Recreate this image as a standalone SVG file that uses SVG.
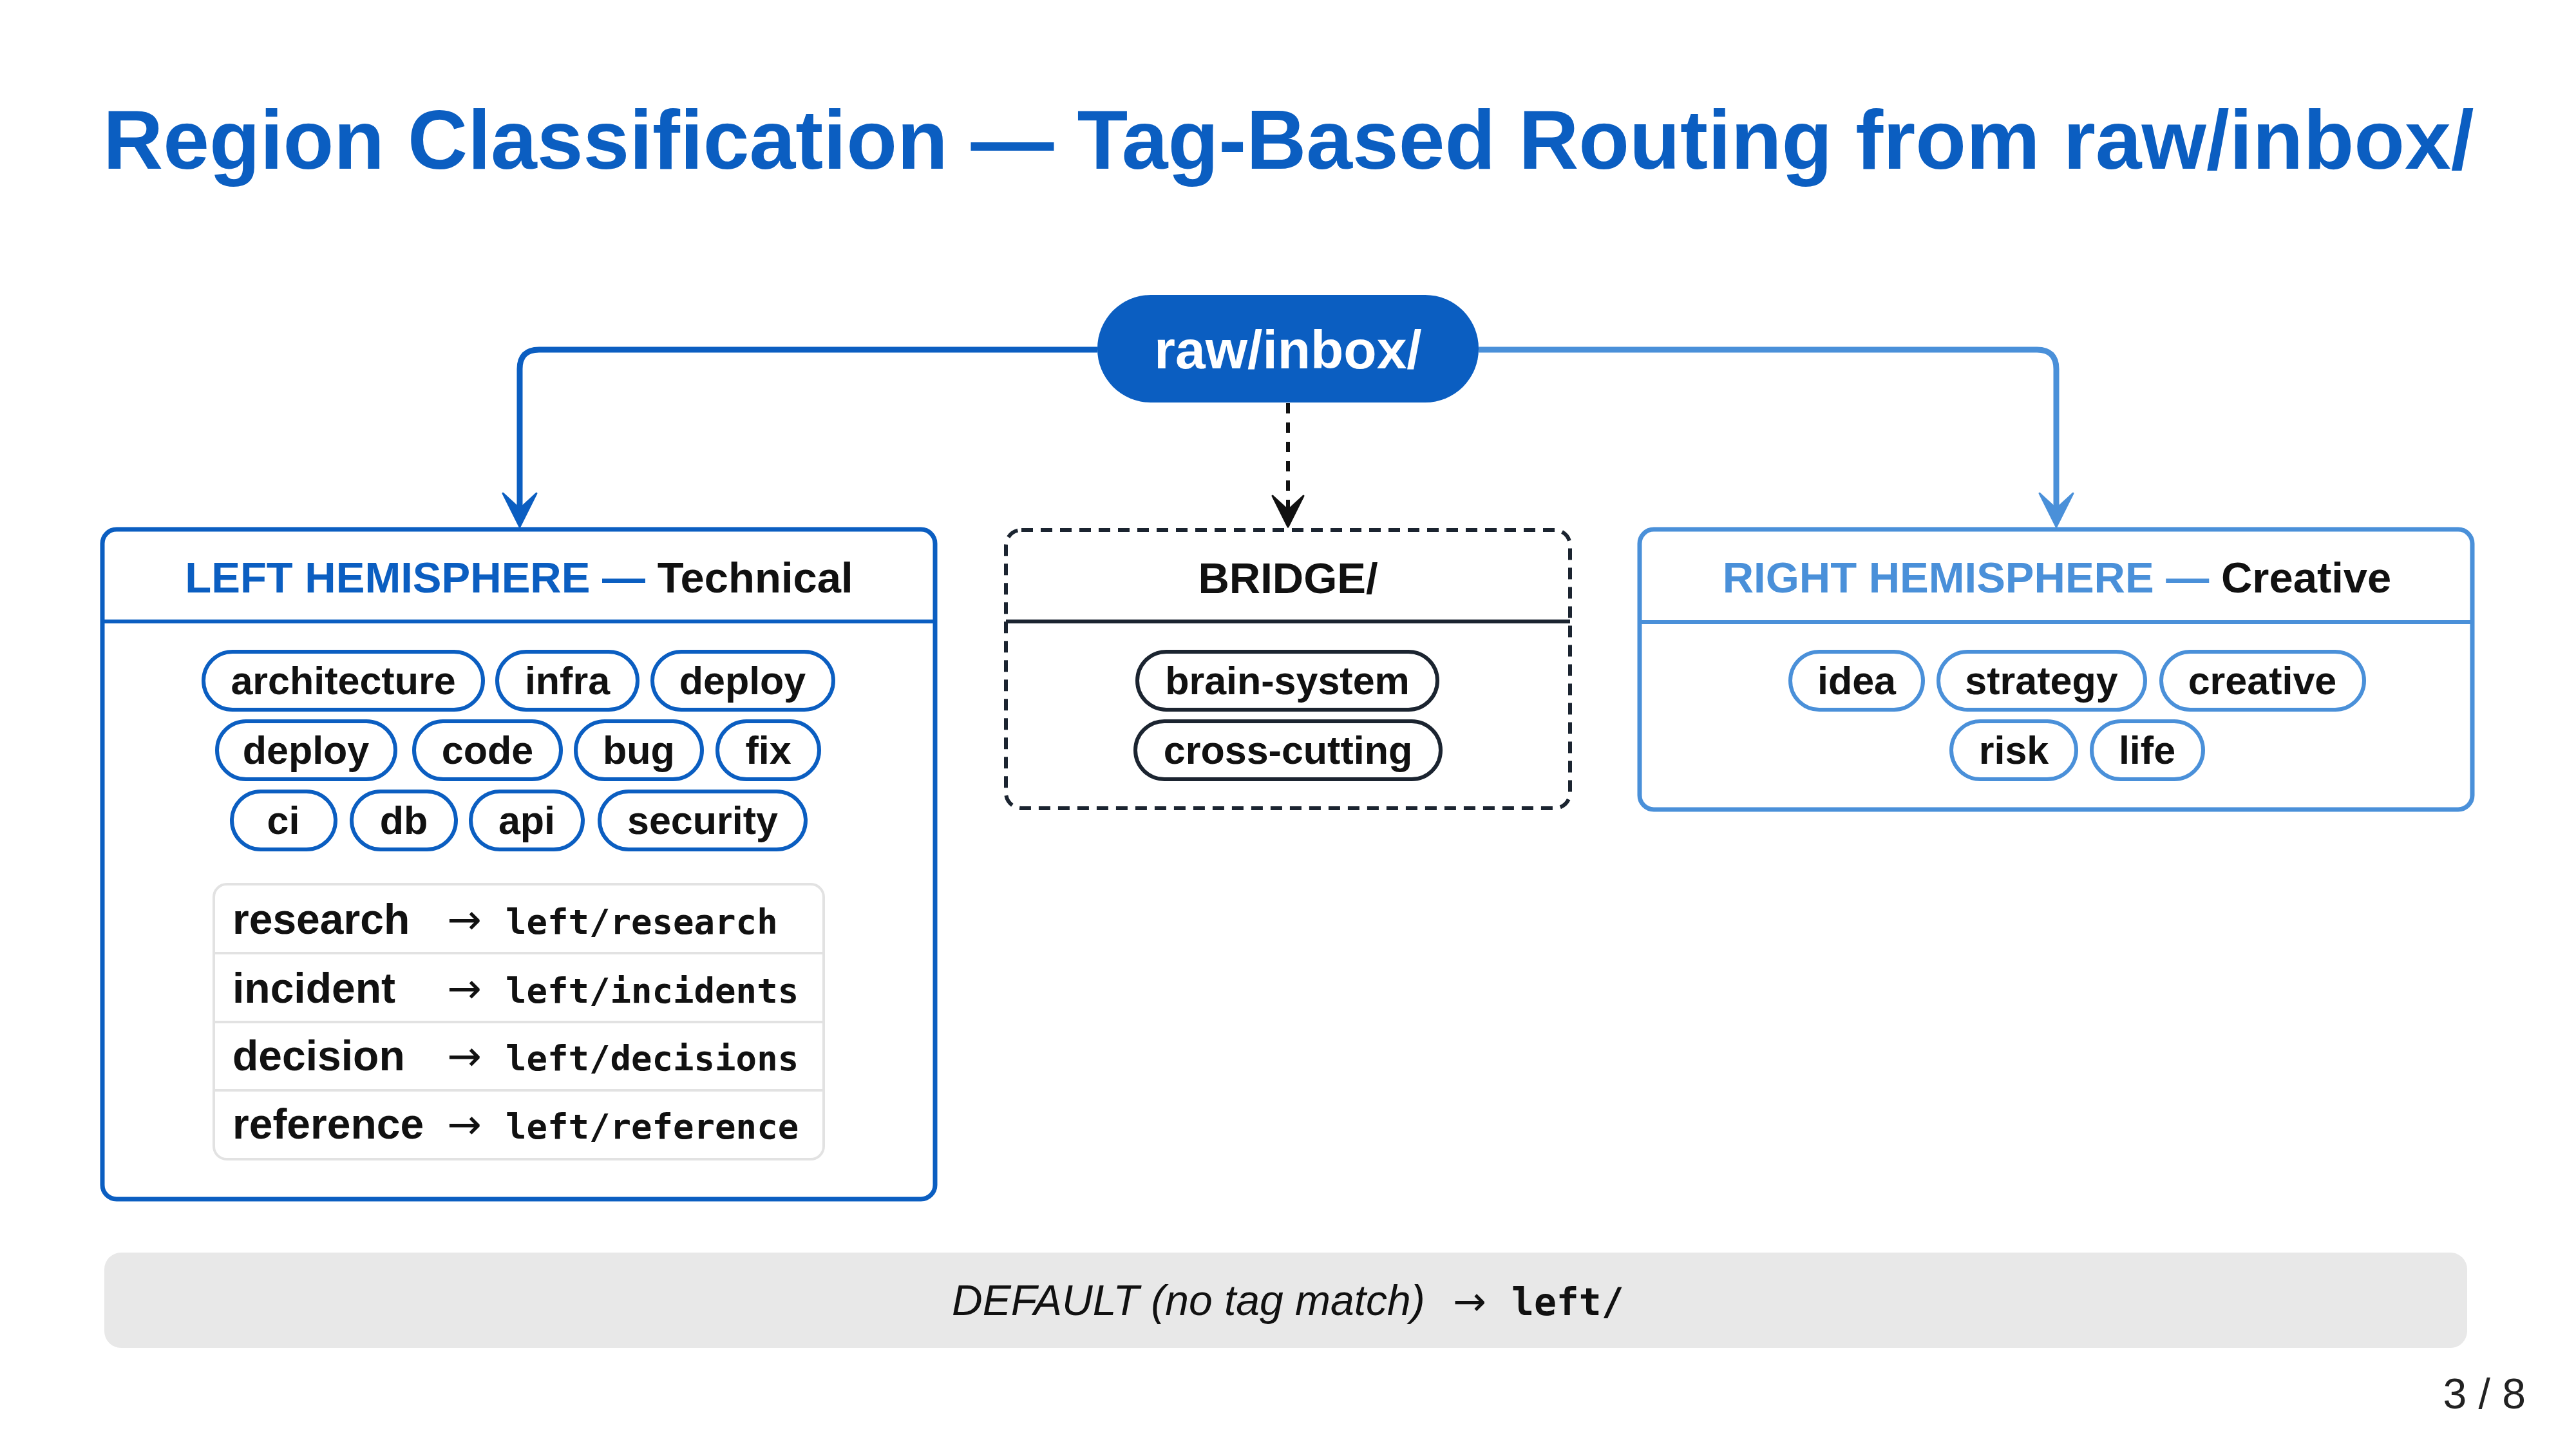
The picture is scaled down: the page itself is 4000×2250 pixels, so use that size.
<svg xmlns="http://www.w3.org/2000/svg" width="4000" height="2250" viewBox="0 0 4000 2250">
<style>
.sans{font-family:"Liberation Sans",Arial,sans-serif}
.title{font-family:"Liberation Sans",Arial,sans-serif;font-weight:bold;font-size:129px;fill:#0b5ec1}
.hdr{font-family:"Liberation Sans",Arial,sans-serif;font-weight:bold;font-size:67px;text-anchor:middle}
.tag{font-family:"Liberation Sans",Arial,sans-serif;font-weight:bold;font-size:61px;fill:#111;text-anchor:middle}
.pillL{fill:#fff;stroke:#0b5ec1;stroke-width:6}
.pillR{fill:#fff;stroke:#4a90d9;stroke-width:6}
.pillB{fill:#fff;stroke:#1b2430;stroke-width:6}
.rowk{font-family:"Liberation Sans",Arial,sans-serif;font-weight:bold;font-size:66px;fill:#111}
.arr{font-family:"DejaVu Sans",sans-serif;font-size:64px;fill:#111}
.mono{font-family:"DejaVu Sans Mono","Liberation Mono",monospace;font-weight:bold;font-size:54px;fill:#111}
</style>
<rect width="4000" height="2250" fill="#fff"/>
<text class="title" x="160" y="262">Region Classification — Tag-Based Routing from raw/inbox/</text>

<g id="connectors">
<path d="M1704 543 H837 Q807 543 807 573 V800" fill="none" stroke="#0b5ec1" stroke-width="9"/>
<path d="M781 766 L807 818 L833 766 L807 790 Z" fill="#0b5ec1" stroke="#0b5ec1" stroke-width="3" stroke-linejoin="round"/>
<path d="M2296 543 H3163 Q3193 543 3193 573 V800" fill="none" stroke="#4a90d9" stroke-width="9"/>
<path d="M3167 766 L3193 818 L3219 766 L3193 790 Z" fill="#4a90d9" stroke="#4a90d9" stroke-width="3" stroke-linejoin="round"/>
<path d="M2000 626 V795" fill="none" stroke="#111" stroke-width="6" stroke-dasharray="16 14"/>
<path d="M1976 770 L2000 818 L2024 770 L2000 792 Z" fill="#111" stroke="#111" stroke-width="3" stroke-linejoin="round"/>
</g>

<g id="inbox">
<rect x="1704" y="458" width="592" height="167" rx="83" fill="#0b5ec1"/>
<text class="sans" x="2000" y="572" font-size="84" font-weight="bold" fill="#fff" text-anchor="middle">raw/inbox/</text>
</g>

<g id="left">
<rect x="159" y="822" width="1293" height="1040" rx="22" fill="#fff" stroke="#0b5ec1" stroke-width="7"/>
<line x1="159" y1="965" x2="1452" y2="965" stroke="#0b5ec1" stroke-width="6"/>
<text class="hdr" x="806" y="920"><tspan fill="#0b5ec1">LEFT HEMISPHERE —</tspan><tspan fill="#111"> Technical</tspan></text>
<rect class="pillL" x="316" y="1012" width="434" height="90" rx="45"/><text class="tag" x="533" y="1078">architecture</text>
<rect class="pillL" x="772" y="1012" width="218" height="90" rx="45"/><text class="tag" x="881" y="1078">infra</text>
<rect class="pillL" x="1013" y="1012" width="281" height="90" rx="45"/><text class="tag" x="1153" y="1078">deploy</text>
<rect class="pillL" x="337" y="1120" width="277" height="90" rx="45"/><text class="tag" x="475" y="1186">deploy</text>
<rect class="pillL" x="643" y="1120" width="228" height="90" rx="45"/><text class="tag" x="757" y="1186">code</text>
<rect class="pillL" x="894" y="1120" width="196" height="90" rx="45"/><text class="tag" x="992" y="1186">bug</text>
<rect class="pillL" x="1114" y="1120" width="158" height="90" rx="45"/><text class="tag" x="1193" y="1186">fix</text>
<rect class="pillL" x="360" y="1229" width="161" height="90" rx="45"/><text class="tag" x="440" y="1295">ci</text>
<rect class="pillL" x="546" y="1229" width="162" height="90" rx="45"/><text class="tag" x="627" y="1295">db</text>
<rect class="pillL" x="731" y="1229" width="174" height="90" rx="45"/><text class="tag" x="818" y="1295">api</text>
<rect class="pillL" x="931" y="1229" width="320" height="90" rx="45"/><text class="tag" x="1091" y="1295">security</text>
<g id="routes">
<rect x="332" y="1373" width="947" height="427" rx="20" fill="#fff" stroke="#e2e2e2" stroke-width="4"/>
<line x1="332" y1="1480" x2="1279" y2="1480" stroke="#e2e2e2" stroke-width="4"/>
<line x1="332" y1="1587" x2="1279" y2="1587" stroke="#e2e2e2" stroke-width="4"/>
<line x1="332" y1="1693" x2="1279" y2="1693" stroke="#e2e2e2" stroke-width="4"/>
<text class="rowk" x="361" y="1450">research</text><text class="arr" x="694" y="1450">→</text><text class="mono" x="785" y="1450">left/research</text>
<text class="rowk" x="361" y="1557">incident</text><text class="arr" x="694" y="1557">→</text><text class="mono" x="785" y="1557">left/incidents</text>
<text class="rowk" x="361" y="1662">decision</text><text class="arr" x="694" y="1662">→</text><text class="mono" x="785" y="1662">left/decisions</text>
<text class="rowk" x="361" y="1768">reference</text><text class="arr" x="694" y="1768">→</text><text class="mono" x="785" y="1768">left/reference</text>
</g>
</g>

<g id="bridge">
<rect x="1562" y="823" width="876" height="432" rx="24" fill="#fff" stroke="#1b2430" stroke-width="6" stroke-dasharray="18 12"/>
<line x1="1562" y1="965" x2="2438" y2="965" stroke="#1b2430" stroke-width="6"/>
<text class="hdr" x="2000" y="921" fill="#111">BRIDGE/</text>
<rect class="pillB" x="1766" y="1012" width="466" height="90" rx="45"/><text class="tag" x="1999" y="1078">brain-system</text>
<rect class="pillB" x="1763" y="1120" width="474" height="90" rx="45"/><text class="tag" x="2000" y="1186">cross-cutting</text>
</g>

<g id="right">
<rect x="2546" y="822" width="1293" height="435" rx="22" fill="#fff" stroke="#4a90d9" stroke-width="7"/>
<line x1="2546" y1="966" x2="3839" y2="966" stroke="#4a90d9" stroke-width="6"/>
<text class="hdr" x="3194" y="920"><tspan fill="#4a90d9">RIGHT HEMISPHERE —</tspan><tspan fill="#111"> Creative</tspan></text>
<rect class="pillR" x="2780" y="1012" width="206" height="90" rx="45"/><text class="tag" x="2883" y="1078">idea</text>
<rect class="pillR" x="3010" y="1012" width="321" height="90" rx="45"/><text class="tag" x="3170" y="1078">strategy</text>
<rect class="pillR" x="3356" y="1012" width="315" height="90" rx="45"/><text class="tag" x="3513" y="1078">creative</text>
<rect class="pillR" x="3030" y="1120" width="194" height="90" rx="45"/><text class="tag" x="3127" y="1186">risk</text>
<rect class="pillR" x="3248" y="1120" width="173" height="90" rx="45"/><text class="tag" x="3334" y="1186">life</text>
</g>

<g id="default">
<rect x="162" y="1945" width="3669" height="148" rx="26" fill="#e8e8e8"/>
<text y="2042" fill="#111"><tspan x="1478" class="sans" font-style="italic" font-size="66">DEFAULT (no tag match)</tspan><tspan x="2256" font-family="DejaVu Sans,sans-serif" font-size="62">→</tspan><tspan x="2347" font-family="DejaVu Sans Mono,monospace" font-weight="bold" font-size="58">left/</tspan></text>
</g>

<text class="sans" x="3922" y="2187" font-size="66" fill="#222" text-anchor="end">3 / 8</text>
</svg>
